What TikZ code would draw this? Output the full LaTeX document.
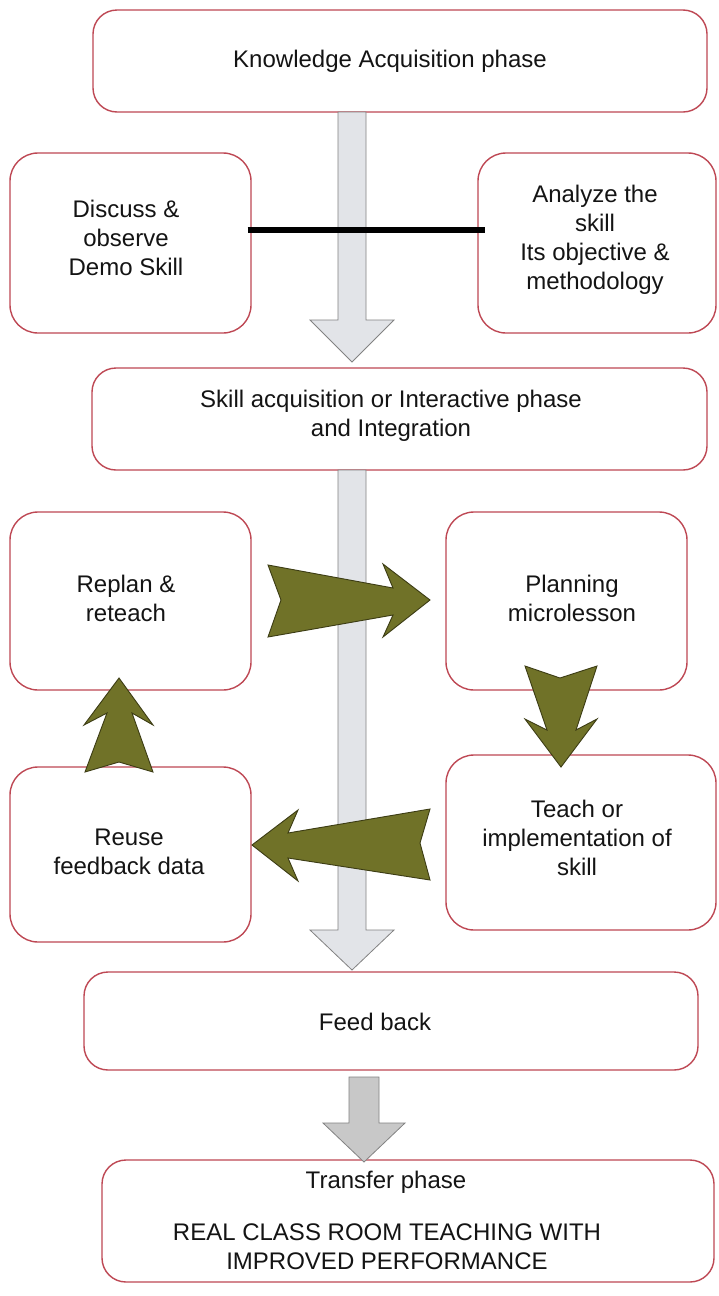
\documentclass[tikz,border=0pt]{standalone}
\usepackage{fontspec}
\setmainfont{Liberation Sans}
\definecolor{boxred}{RGB}{190,72,84}
\definecolor{olivef}{RGB}{112,114,40}
\definecolor{olived}{RGB}{60,60,20}
\definecolor{shaftgray}{RGB}{226,228,232}
\definecolor{darkgray2}{RGB}{200,200,200}
\definecolor{edgegray}{RGB}{130,130,130}
\tikzset{
  stagebox/.style={draw=boxred, line width=1.4pt, fill=white, rounded corners=24pt, inner sep=0pt},
  lbl/.style={font=\fontsize{24}{29}\selectfont, align=center, inner sep=0pt, text=black!92},
  grayarrow/.style={fill=shaftgray, draw=edgegray, line width=0.8pt, line join=miter},
  grayarrowB/.style={fill=darkgray2, draw=edgegray, line width=0.8pt, line join=miter},
  olivearrow/.style={fill=olivef, draw=olived, line width=0.9pt, line join=miter},
  barline/.style={line width=6pt, black}
}
\begin{document}
\begin{tikzpicture}[x=1pt,y=-1pt]
\useasboundingbox (0,0) rectangle (718,1296);
\fill[white] (0,0) rectangle (718,1296);
% boxes
\node[stagebox, minimum width=614pt, minimum height=102pt] (know) at (400,61) {};
\node[stagebox, minimum width=241pt, minimum height=180pt, rounded corners=28pt] (disc) at (130.5,243) {};
\node[stagebox, minimum width=238pt, minimum height=180pt, rounded corners=28pt] (anal) at (597,243) {};
\node[stagebox, minimum width=615pt, minimum height=102pt] (skill) at (399.5,419) {};
\node[stagebox, minimum width=241pt, minimum height=178pt, rounded corners=28pt] (replan) at (130.5,601) {};
\node[stagebox, minimum width=241pt, minimum height=178pt, rounded corners=28pt] (plan) at (566.5,601) {};
\node[stagebox, minimum width=241pt, minimum height=175pt, rounded corners=28pt] (reuse) at (130.5,854.5) {};
\node[stagebox, minimum width=270pt, minimum height=175pt, rounded corners=28pt] (teach) at (581,842.5) {};
\node[stagebox, minimum width=614pt, minimum height=98pt] (feed) at (391,1021) {};
\node[stagebox, minimum width=612pt, minimum height=122pt] (trans) at (408,1221) {};
% gray arrows
\draw[grayarrow] (338,112) -- (366,112) -- (366,320) -- (394,320) -- (352,362) -- (310,320) -- (338,320) -- cycle;
\draw[grayarrow] (338,470) -- (366,470) -- (366,930) -- (394,930) -- (352,970) -- (310,930) -- (338,930) -- cycle;
\draw[grayarrowB] (349,1077) -- (379,1077) -- (379,1123) -- (405,1123) -- (364,1162) -- (323,1123) -- (349,1123) -- cycle;
% black bar between discuss and analyze
\draw[barline] ([shift={(-4,-13)}]disc.east) -- ([shift={(8,-13)}]anal.west);
% olive arrows
\draw[olivearrow] (268,565) -- (393,588) -- (383,564) -- (430,600) -- (383,637) -- (393,615) -- (268,637) -- (281,600) -- cycle;
\draw[olivearrow] (525,666) -- (560,678) -- (597,666) -- (576,730) -- (597,719) -- (561,767) -- (525,719) -- (547,730) -- cycle;
\draw[olivearrow] (430,809) -- (420,843) -- (430,880) -- (288,858) -- (298,881) -- (252,845) -- (298,810) -- (288,833) -- cycle;
\draw[olivearrow] (119,678) -- (153,725) -- (132,713) -- (153,772) -- (119,762) -- (85,772) -- (107,713) -- (84,725) -- cycle;
% texts
\node[lbl] (knowt) at (390,61) {Knowledge Acquisition phase};
\node[lbl] (disct) at (126,238) {Discuss \&\\observe\\Demo Skill};
\node[lbl] (analt) at (595,240) {Analyze the\\skill\\Its objective \&\\methodology};
\node[lbl] (skillt) at (391,416) {Skill acquisition or Interactive phase\\and Integration};
\node[lbl] (replant) at (126,598) {Replan \&\\reteach};
\node[lbl] (plant) at (572,598) {Planning\\microlesson};
\node[lbl] (reuset) at (129,852) {Reuse\\feedback data};
\node[lbl] (teacht) at (577,838) {Teach or\\implementation of\\skill};
\node[lbl] (feedt) at (375,1022) {Feed back};
\node[lbl] (transt) at (386,1182) {Transfer phase};
\node[lbl] (realt) at (387,1247) {REAL CLASS ROOM TEACHING WITH\\IMPROVED PERFORMANCE};
\end{tikzpicture}
\end{document}
